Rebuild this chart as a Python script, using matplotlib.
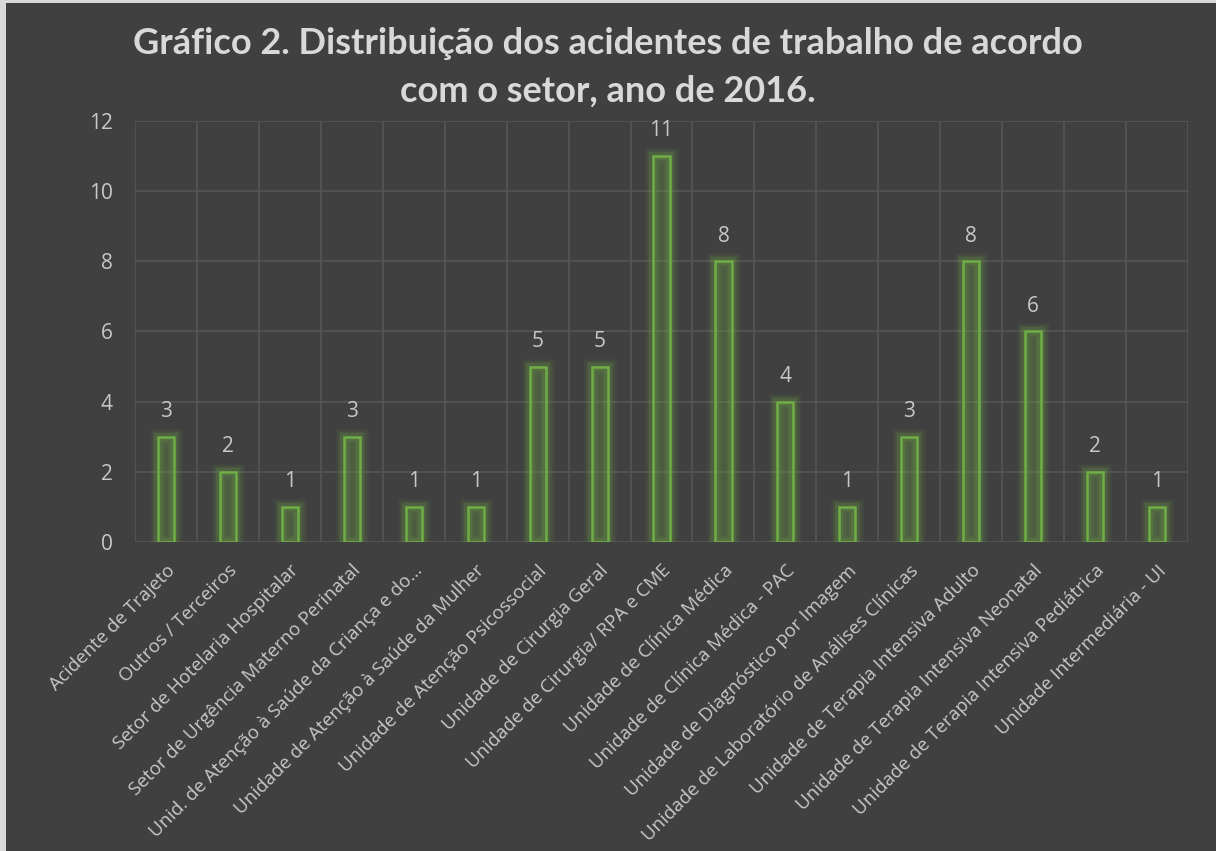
import matplotlib
matplotlib.use("Agg")
from matplotlib import pyplot as plt
from matplotlib.patches import Rectangle
import numpy as np

# dados do gráfico
setores = [
    "Acidente de Trajeto",
    "Outros / Terceiros",
    "Setor de Hotelaria Hospitalar",
    "Setor de Urgência Materno Perinatal",
    "Unid. de Atenção à Saúde da Criança e do…",
    "Unidade de Atenção à Saúde da Mulher",
    "Unidade de Atenção Psicossocial",
    "Unidade de Cirurgia Geral",
    "Unidade de Cirurgia/ RPA e CME",
    "Unidade de Clínica Médica",
    "Unidade de Clínica Médica - PAC",
    "Unidade de Diagnóstico por Imagem",
    "Unidade de Laboratório de Análises Clínicas",
    "Unidade de Terapia Intensiva Adulto",
    "Unidade de Terapia Intensiva Neonatal",
    "Unidade de Terapia Intensiva Pediátrica",
    "Unidade Intermediária - UI",
]
acidentes = [3, 2, 1, 3, 1, 1, 5, 5, 11, 8, 4, 1, 3, 8, 6, 2, 1]
yticks = [0, 2, 4, 6, 8, 10, 12]

fundo = "#404040"
verde = "#70ad47"
grade = "#555555"
texto = "#c8c8c8"
fonte = ["Open Sans", "DejaVu Sans"]

fig = plt.figure(figsize=(12.16, 8.51), dpi=100, facecolor=fundo)
# moldura clara à esquerda / em cima
fig.patches.append(Rectangle((0, 0), 0.005, 1, transform=fig.transFigure,
                             facecolor="#d9d9d9", edgecolor="none"))
fig.patches.append(Rectangle((0, 0.996), 1, 0.004, transform=fig.transFigure,
                             facecolor="#d9d9d9", edgecolor="none"))

ax = fig.add_axes([0.111, 0.363, 0.866, 0.495])
ax.set_facecolor(fundo)

x = np.arange(len(setores))
w = 0.26

# brilho em volta das barras
for lw, a in [(12, 0.07), (9, 0.1), (6, 0.18)]:
    ax.bar(x, acidentes, w, facecolor="none", edgecolor=verde, linewidth=lw,
           alpha=a, zorder=2)
ax.bar(x, acidentes, w, facecolor=(0.44, 0.68, 0.28, 0.22), edgecolor=verde,
       linewidth=1.8, zorder=3)

for xi, v in zip(x, acidentes):
    ax.annotate(str(v), (xi, v), xytext=(0, 18), textcoords="offset points",
                ha="center", va="center", fontsize=15, color=texto,
                family=fonte)

ax.set_xlim(-0.5, len(setores) - 0.5)
ax.set_ylim(0, 12)
ax.set_yticks(yticks)
ax.set_xticks(x)
ax.set_xticks(np.arange(-0.5, len(setores), 1), minor=True)
ax.set_xticklabels(setores, rotation=45, ha="right", rotation_mode="anchor",
                   fontsize=13.5, color=texto, family=fonte)
ax.set_yticklabels([str(t) for t in yticks], fontsize=15, color=texto,
                   family=fonte)
ax.tick_params(axis="both", which="both", length=0)
ax.tick_params(axis="x", pad=14)
ax.tick_params(axis="y", pad=16)
ax.grid(axis="y", color=grade, linewidth=1.2, zorder=0)
ax.grid(axis="x", which="minor", color=grade, linewidth=1.2, zorder=0)
ax.grid(axis="x", which="major", visible=False)
for s in ax.spines.values():
    s.set_visible(False)

fig.text(0.5, 0.921, "Gráfico 2. Distribuição dos acidentes de trabalho de acordo\ncom o setor, ano de 2016.",
         ha="center", va="center", fontsize=26, fontweight="bold", color="#d9d9d9",
         family="Lato", linespacing=1.55)

fig.savefig("out.png", dpi=100, facecolor=fundo)
